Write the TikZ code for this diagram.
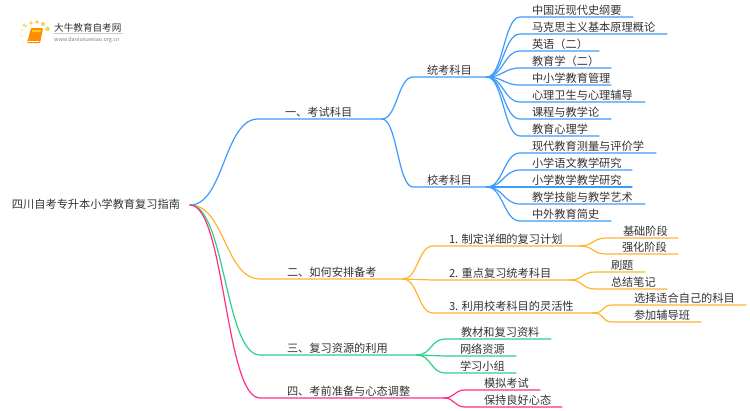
\documentclass[tikz,border=0pt]{standalone}
\usepackage{fontspec}
\setmainfont{Noto Sans CJK SC}
\definecolor{cblue}{HTML}{3D9BFF}
\definecolor{corange}{HTML}{FFB52E}
\definecolor{cgreen}{HTML}{2FD08B}
\definecolor{cpink}{HTML}{FF2E8B}
\definecolor{ctext}{HTML}{333333}
\tikzset{
  lbl/.style={anchor=base west,inner sep=0pt,outer sep=0pt,text=ctext,font=\fontsize{11.2pt}{12pt}\selectfont},
  wire/.style={line width=1.2pt,line cap=round}
}
% \branch{parent}{name}{start x}{y}{end x}{colour}{text x}{text}{control offset}
\newcommand{\branch}[9]{
  \coordinate (#2s) at (#3,#4);
  \coordinate (#2) at (#5,#4);
  \node[lbl] (#2t) at (#7,#4-3) {#8};
  \draw[wire,#6] (#1) .. controls ($(#1)+(#9,0)$) and ($(#2s)-(#9,0)$) .. (#2s) -- (#2);
}
\usetikzlibrary{calc}
\begin{document}
\begin{tikzpicture}[x=1pt,y=-1pt]
\useasboundingbox (0,0) rectangle (750,410);
\fill[white] (0,0) rectangle (750,410);
% logo
\foreach \a/\b/\c/\o in {24/25/1.6/.7,31/23/1.8/.8,37/22/1.9/.85,43/24/2/.8,47.5/29/2.2/.8,26/26/1.3/.6,22/30/1.2/.5,22/36/1.1/.4,23.5/42/1/.3}
  \fill[corange!80!yellow,opacity=\o] (\a,\b) circle (\c);
\fill[orange!90!yellow,rounded corners=1pt] (31,28) -- (43,28) -- (40,43) -- (27,43) -- cycle;
\fill[yellow!70!orange] (32.5,30) -- (41,30) -- (40.2,32) -- (32,32) -- cycle;
\draw[white,line width=.5pt] (28,41) -- (39,41);
\node[anchor=base west,inner sep=0,text=ctext,font=\fontsize{9.6pt}{10pt}\selectfont] (logoa) at (54,31) {大牛教育自考网};
\draw[gray!40,line width=.5pt] (54,33.5) -- (123,33.5);
\node[anchor=base west,inner sep=0,text=gray,font=\fontsize{5.4pt}{6pt}\selectfont] (logob) at (54,41) {www.daniuxuexiao.org.cn};
% root
\node[lbl] (roott) at (12,208) {四川自考专升本小学教育复习指南};
\coordinate (root) at (190,205);
% main branches
\branch{root}{b1}{258}{119}{382}{cblue}{285}{一、考试科目}{34}
\branch{root}{b2}{260}{279}{403}{corange}{287}{二、如何安排备考}{35}
\branch{root}{b3}{260}{355}{417}{cgreen}{287}{三、复习资源的利用}{35}
\branch{root}{b4}{260}{398}{444}{cpink}{287}{四、考前准备与心态调整}{35}
% b1
\branch{b1}{p1}{413}{77}{487}{cblue}{427}{统考科目}{15}
\branch{b1}{p2}{413}{187}{487}{cblue}{427}{校考科目}{15}
\branch{p1}{a1}{520}{17}{633}{cblue}{532}{中国近现代史纲要}{16}
\branch{p1}{a2}{520}{34}{667}{cblue}{532}{马克思主义基本原理概论}{16}
\branch{p1}{a3}{520}{51}{599}{cblue}{532}{英语（二）}{16}
\branch{p1}{a4}{520}{68}{611}{cblue}{532}{教育学（二）}{16}
\branch{p1}{a5}{520}{85}{611}{cblue}{532}{中小学教育管理}{16}
\branch{p1}{a6}{520}{102}{645}{cblue}{532}{心理卫生与心理辅导}{16}
\branch{p1}{a7}{520}{119}{611}{cblue}{532}{课程与教学论}{16}
\branch{p1}{a8}{520}{136}{599}{cblue}{532}{教育心理学}{16}
\branch{p2}{c1}{520}{153}{656}{cblue}{532}{现代教育测量与评价学}{16}
\branch{p2}{c2}{520}{170}{632}{cblue}{532}{小学语文教学研究}{16}
\branch{p2}{c3}{520}{187}{632}{cblue}{532}{小学数学教学研究}{16}
\branch{p2}{c4}{520}{204}{645}{cblue}{532}{教学技能与教学艺术}{16}
\branch{p2}{c5}{520}{221}{611}{cblue}{532}{中外教育简史}{16}
% b2
\branch{b2}{s1}{433}{246}{580}{corange}{449}{1. 制定详细的复习计划}{15}
\branch{b2}{s2}{433}{280}{570}{corange}{449}{2. 重点复习统考科目}{15}
\branch{b2}{s3}{433}{313}{593}{corange}{449}{3. 利用校考科目的灵活性}{15}
\branch{s1}{e1}{606}{238}{678}{corange}{623}{基础阶段}{13}
\branch{s1}{e2}{606}{254}{678}{corange}{622}{强化阶段}{13}
\branch{s2}{e3}{595}{272}{645}{corange}{611}{刷题}{13}
\branch{s2}{e4}{595}{289}{667}{corange}{611}{总结笔记}{13}
\branch{s3}{e5}{613}{305}{746}{corange}{634}{选择适合自己的科目}{13}
\branch{s3}{e6}{613}{322}{701}{corange}{634}{参加辅导班}{13}
% b3
\branch{b3}{g1}{445}{339}{551}{cgreen}{461}{教材和复习资料}{14}
\branch{b3}{g2}{445}{356}{516}{cgreen}{460}{网络资源}{14}
\branch{b3}{g3}{445}{373}{516}{cgreen}{460}{学习小组}{14}
% b4
\branch{b4}{h1}{465}{390}{540}{cpink}{484}{模拟考试}{11}
\branch{b4}{h2}{465}{407}{562}{cpink}{484}{保持良好心态}{11}
\end{tikzpicture}
\end{document}
